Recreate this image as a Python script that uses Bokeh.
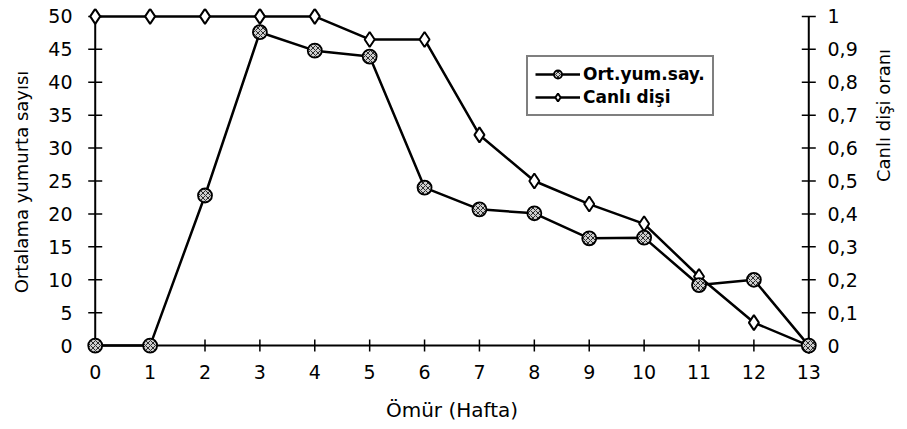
import math
from bokeh.plotting import figure
from bokeh.models import Range1d, LinearAxis, FixedTicker, Legend, LegendItem
from bokeh.embed import file_html
from bokeh.resources import INLINE

# ---- data ----
weeks = list(range(14))
eggs = [0, 0, 22.8, 47.6, 44.8, 43.9, 24.0, 20.7, 20.1, 16.3, 16.4, 9.2, 10.0, 0]
alive = [1.0, 1.0, 1.0, 1.0, 1.0, 0.93, 0.93, 0.64, 0.50, 0.43, 0.37, 0.21, 0.07, 0.0]

left_ticks = [0, 5, 10, 15, 20, 25, 30, 35, 40, 45, 50]
right_ticks = [0, 0.1, 0.2, 0.3, 0.4, 0.5, 0.6, 0.7, 0.8, 0.9, 1.0]
right_labels = ["0", "0,1", "0,2", "0,3", "0,4", "0,5", "0,6", "0,7", "0,8", "0,9", "1"]
x_labels = [str(w) for w in weeks]

series_names = ["Ort.yum.say.", "Canlı dişi"]
x_title = "Ömür (Hafta)"
left_title = "Ortalama yumurta sayısı"
right_title = "Canlı dişi oranı"

FONT = "DejaVu Sans"
xpad = 0.25
ybot_pad, ytop_pad = 1.5, 1.2
ymax = left_ticks[-1]
rmax = right_ticks[-1]
ratio = rmax / ymax

p = figure(width=907, height=429,
           x_range=Range1d(weeks[0] - xpad, weeks[-1] + xpad),
           y_range=Range1d(left_ticks[0] - ybot_pad, ymax + ytop_pad),
           output_backend="svg", toolbar_location=None,
           min_border_left=81, min_border_right=85,
           min_border_top=8, min_border_bottom=74)
p.extra_y_ranges = {"right": Range1d((left_ticks[0] - ybot_pad) * ratio, (ymax + ytop_pad) * ratio)}
p.outline_line_color = None
p.xgrid.visible = False
p.ygrid.visible = False
p.background_fill_color = "white"
p.border_fill_color = "white"


def style_axis(ax, standoff):
    ax.axis_line_color = None
    ax.major_tick_line_color = None
    ax.minor_tick_line_color = None
    ax.major_tick_in = 0
    ax.major_tick_out = 0
    ax.major_label_standoff = standoff
    ax.major_label_text_font = FONT
    ax.major_label_text_font_size = "19px"
    ax.major_label_text_color = "black"
    ax.axis_label_text_font = FONT
    ax.axis_label_text_font_style = "normal"
    ax.axis_label_text_color = "black"


xa = p.xaxis[0]
style_axis(xa, 9)
xa.ticker = FixedTicker(ticks=weeks)
xa.major_label_overrides = {w: lab for w, lab in zip(weeks, x_labels)}
xa.axis_label = x_title
xa.axis_label_text_font_size = "20px"
xa.axis_label_standoff = 16

ya = p.yaxis[0]
style_axis(ya, 9)
ya.ticker = FixedTicker(ticks=left_ticks)
ya.axis_label = left_title
ya.axis_label_text_font_size = "18px"
ya.axis_label_standoff = 13

ra = LinearAxis(y_range_name="right")
style_axis(ra, 5)
ra.ticker = FixedTicker(ticks=right_ticks)
ra.major_label_overrides = {t: lab for t, lab in zip(right_ticks, right_labels)}
ra.axis_label = right_title
ra.axis_label_text_font_size = "18px"
ra.axis_label_standoff = 23
ra.axis_label_orientation = math.pi / 2
p.add_layout(ra, "right")

# axis lines drawn at data coordinates
p.segment(x0=[weeks[0], weeks[-1], weeks[0]], y0=[left_ticks[0]] * 3,
          x1=[weeks[0], weeks[-1], weeks[-1]], y1=[ymax, ymax, left_ticks[0]],
          line_color="black", line_width=2)
# cross ticks
p.scatter(x=[weeks[0]] * len(left_ticks), y=left_ticks, marker="dash", size=14,
          line_color="black", line_width=1.5)
p.scatter(x=[weeks[-1]] * len(right_ticks), y=right_ticks, y_range_name="right",
          marker="dash", size=14, line_color="black", line_width=1.5)
p.scatter(x=weeks, y=[left_ticks[0]] * len(weeks), marker="dash", angle=math.pi / 2,
          size=12, line_color="black", line_width=1.5)

# series
l2 = p.line(weeks, alive, y_range_name="right", line_color="black", line_width=2.5)
m2 = p.scatter(weeks, alive, y_range_name="right", marker="diamond", size=15,
               fill_color="white", line_color="black", line_width=2)
l1 = p.line(weeks, eggs, line_color="black", line_width=2.5)
m1 = p.scatter(weeks, eggs, marker="circle", size=14, fill_color="#cfcfcf",
               line_color="black", line_width=1.8, hatch_pattern="x",
               hatch_color="black", hatch_scale=5, hatch_weight=0.8)

legend = Legend(items=[LegendItem(label=series_names[0], renderers=[l1, m1]),
                       LegendItem(label=series_names[1], renderers=[l2, m2])],
                location=(445, 239))
legend.glyph_width = 45
legend.glyph_height = 20
legend.label_standoff = 3
legend.padding = 7
legend.spacing = 3
legend.margin = 0
legend.border_line_color = "black"
legend.border_line_width = 2
legend.label_text_font = FONT
legend.label_text_font_size = "17px"
legend.label_text_font_style = "bold"
legend.label_text_color = "black"
legend.background_fill_color = "white"
legend.background_fill_alpha = 1.0
p.add_layout(legend, "center")

open("out.html", "w").write(file_html(p, INLINE))
